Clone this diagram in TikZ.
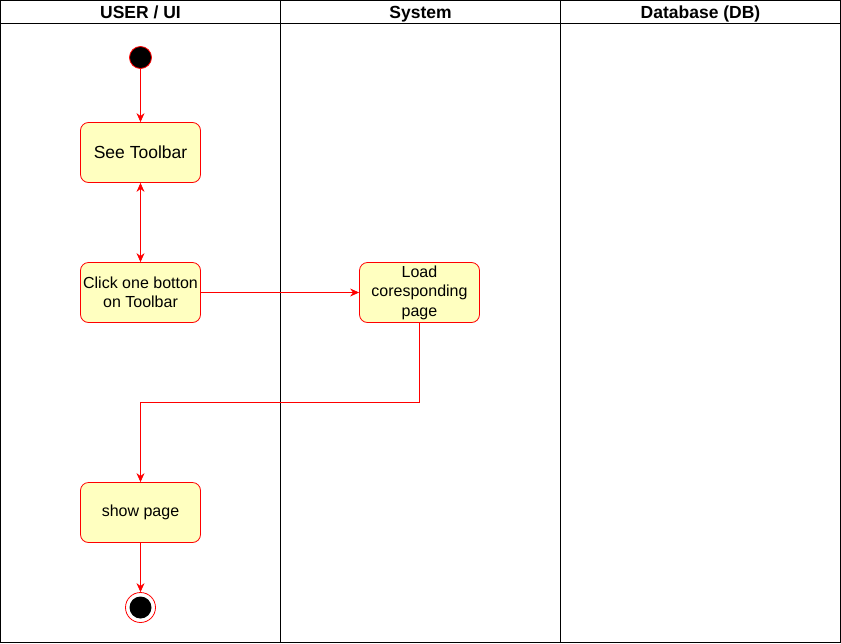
\documentclass[tikz,border=0pt]{standalone}
\usepackage{fontspec}
\setmainfont{Liberation Sans}
\usetikzlibrary{arrows.meta}
\definecolor{boxfill}{HTML}{FFFFC0}
\definecolor{linered}{HTML}{FF0000}
\tikzset{
  act/.style={draw=linered, fill=boxfill, rounded corners=8pt, minimum width=120pt, minimum height=60pt, inner sep=1pt, align=center, font=\fontsize{16}{19.5}\selectfont, line width=0.8pt},
  conn/.style={draw=linered, line width=0.8pt, -{Stealth[length=9pt,width=8pt,inset=3pt]}},
  lane/.style={draw=black, line width=0.8pt},
  hdr/.style={font=\bfseries\fontsize{17.5}{21}\selectfont, anchor=base, inner sep=0pt},
}
\begin{document}
\begin{tikzpicture}[x=1pt,y=-1pt]
\useasboundingbox (0,0) rectangle (841,643);
% swimlanes
\draw[lane] (0.5,0.5) rectangle (840.5,642.5);
\draw[lane] (0.5,23.5) -- (840.5,23.5);
\draw[lane] (280.5,0.5) -- (280.5,642.5);
\draw[lane] (560.5,0.5) -- (560.5,642.5);
\node[hdr] (h1) at (140.5,18.5) {USER / UI};
\node[hdr] (h2) at (420.5,18.5) {System};
\node[hdr] (h3) at (700.5,18.5) {Database (DB)};
% nodes
\node[circle, fill=black, draw=linered, line width=0.8pt, minimum size=22pt, inner sep=0pt] (start) at (140.5,57.5) {};
\node[act, font=\fontsize{17.5}{21}\selectfont] (see) at (140.5,152.5) {See Toolbar};
\node[act] (click) at (140.5,292.5) {Click one botton\\on Toolbar};
\node[act] (load) at (419.5,292.5) {Load\\coresponding\\page};
\node[act] (show) at (140.5,512.5) {show page};
\node[circle, draw=linered, fill=white, line width=0.8pt, minimum size=30pt, inner sep=0pt] (end) at (140.5,607.5) {};
\node[circle, fill=black, minimum size=22pt, inner sep=0pt] (endin) at (end) {};
\coordinate (bend1) at (419.5,402.5);
\coordinate (bend2) at (140.5,402.5);
% connectors
\draw[conn] (start) -- (see);
\draw[conn, {Stealth[length=9pt,width=8pt,inset=3pt]}-{Stealth[length=9pt,width=8pt,inset=3pt]}] (see) -- (click);
\draw[conn] (click) -- (load);
\draw[conn] (load.south) -- (bend1) -- (bend2) -- (show.north);
\draw[conn] (show) -- (end);
\end{tikzpicture}
\end{document}
